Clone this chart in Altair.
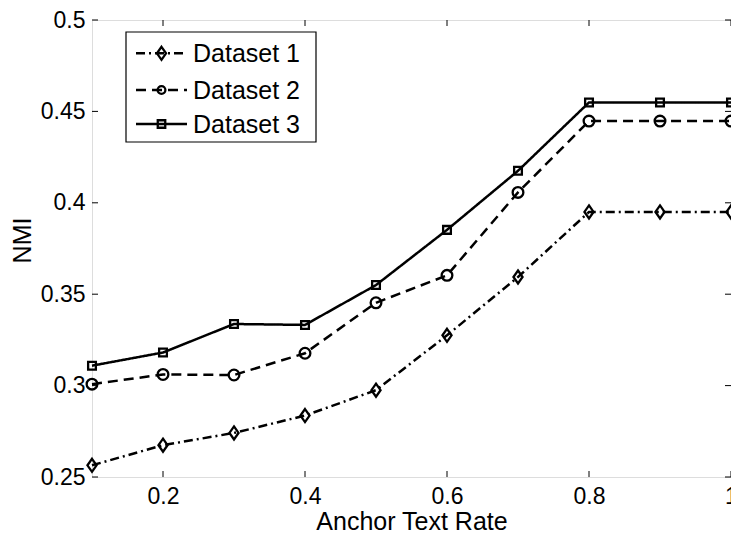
import altair as alt
import pandas as pd

# ---- data ----
rates = [0.1, 0.2, 0.3, 0.4, 0.5, 0.6, 0.7, 0.8, 0.9, 1.0]
dataset1 = [0.2564, 0.2674, 0.2741, 0.2836, 0.2975, 0.3275, 0.3594, 0.3950, 0.3950, 0.3950]
dataset2 = [0.3008, 0.3061, 0.3058, 0.3177, 0.3453, 0.3603, 0.4057, 0.4447, 0.4447, 0.4447]
dataset3 = [0.3109, 0.3181, 0.3337, 0.3332, 0.3550, 0.3852, 0.4175, 0.4549, 0.4549, 0.4549]
series_names = ["Dataset 1", "Dataset 2", "Dataset 3"]
x_ticks = [0.2, 0.4, 0.6, 0.8, 1.0]
y_ticks = [0.25, 0.3, 0.35, 0.4, 0.45, 0.5]

W, H = 639, 457
FONT = "Liberation Sans"
DIAMOND = "M0,-1L0.7,0L0,1L-0.7,0Z"
dashes = [[9, 4, 2, 4], [10, 6], [1, 0]]
shapes = [DIAMOND, "circle", "square"]
sizes = [169, 60, 56]

rows = []
for name, vals in zip(series_names, [dataset1, dataset2, dataset3]):
    for r, v in zip(rates, vals):
        rows.append({"rate": r, "nmi": v, "series": name})
df = pd.DataFrame(rows)

xscale = alt.Scale(domain=[0.1, 1.0], nice=False, zero=False)
yscale = alt.Scale(domain=[0.25, 0.5], nice=False, zero=False)

xaxis = alt.Axis(values=x_ticks, format="~g", ticks=False, domain=False, grid=False,
                 labelFontSize=23, labelFont=FONT, labelColor="black", labelPadding=8,
                 labelFlush=False, labelOverlap=False, labelBound=False,
                 title="Anchor Text Rate", titleFontSize=25, titleFont=FONT,
                 titleFontWeight="normal", titleColor="black",
                 titleX=W / 2, titleY=52, titleBaseline="alphabetic", titleAlign="center")
yaxis = alt.Axis(values=y_ticks, format="~g", ticks=False, domain=False, grid=False,
                 labelFontSize=23, labelFont=FONT, labelColor="black", labelPadding=7,
                 labelFlush=False, labelOverlap=False, labelBound=False,
                 title="NMI", titleFontSize=25, titleFont=FONT,
                 titleFontWeight="normal", titleColor="black",
                 titleX=-70, titleY=220, titleAngle=270, titleBaseline="middle",
                 titleAlign="center")

X = lambda f: alt.X(f, scale=xscale, axis=xaxis)
Y = lambda f: alt.Y(f, scale=yscale, axis=yaxis)

lines = alt.Chart(df).mark_line(color="black", strokeWidth=2.5).encode(
    x=X("rate:Q"), y=Y("nmi:Q"),
    strokeDash=alt.StrokeDash("series:N", scale=alt.Scale(domain=series_names, range=dashes), legend=None),
)
points = alt.Chart(df).mark_point(filled=False, color="black", strokeWidth=2.3, opacity=1).encode(
    x=X("rate:Q"), y=Y("nmi:Q"),
    shape=alt.Shape("series:N", scale=alt.Scale(domain=series_names, range=shapes), legend=None),
    size=alt.Size("series:N", scale=alt.Scale(domain=series_names, range=sizes), legend=None),
)

xt = pd.DataFrame({"rate": x_ticks})
yt = pd.DataFrame({"nmi": y_ticks})
tick_layers = [
    alt.Chart(xt).mark_rule(color="black", strokeWidth=1).encode(
        x=X("rate:Q"), y=alt.value(H), y2=alt.value(H - 6)),
    alt.Chart(xt).mark_rule(color="black", strokeWidth=1).encode(
        x=X("rate:Q"), y=alt.value(0), y2=alt.value(6)),
    alt.Chart(yt).mark_rule(color="black", strokeWidth=1).encode(
        y=Y("nmi:Q"), x=alt.value(0), x2=alt.value(6)),
    alt.Chart(yt).mark_rule(color="black", strokeWidth=1).encode(
        y=Y("nmi:Q"), x=alt.value(W), x2=alt.value(W - 6)),
]

# ---- legend ----
one = pd.DataFrame({"k": [0]})
legend_layers = [
    alt.Chart(one).mark_rect(fill="white", stroke="black", strokeWidth=1.2).encode(
        x=alt.value(34), x2=alt.value(224), y=alt.value(12), y2=alt.value(122))
]
row_y = [33.3, 70, 104]
for i, name in enumerate(series_names):
    d = pd.DataFrame({"series": [name]})
    legend_layers.append(alt.Chart(d).mark_rule(color="black", strokeWidth=2.4, strokeDash=dashes[i]).encode(
        x=alt.value(44), x2=alt.value(95), y=alt.value(row_y[i])))
    legend_layers.append(alt.Chart(d).mark_point(filled=False, color="black", strokeWidth=2.3, opacity=1,
                                                 shape=shapes[i], size=sizes[i]).encode(
        x=alt.value(69.5), y=alt.value(row_y[i])))
    legend_layers.append(alt.Chart(d).mark_text(align="left", baseline="middle", font=FONT,
                                                fontSize=25, color="black").encode(
        x=alt.value(101), y=alt.value(row_y[i] + 1), text="series:N"))

chart = alt.layer(lines, points, *tick_layers, *legend_layers).properties(
    width=W, height=H,
    autosize=alt.AutoSizeParams(type="none"),
    padding={"left": 84, "top": 12, "right": 0, "bottom": 57},
).configure_view(stroke="black", strokeWidth=1.5).configure(background="white")

chart.save("out.html", embed_options={"renderer": "svg", "actions": False})
